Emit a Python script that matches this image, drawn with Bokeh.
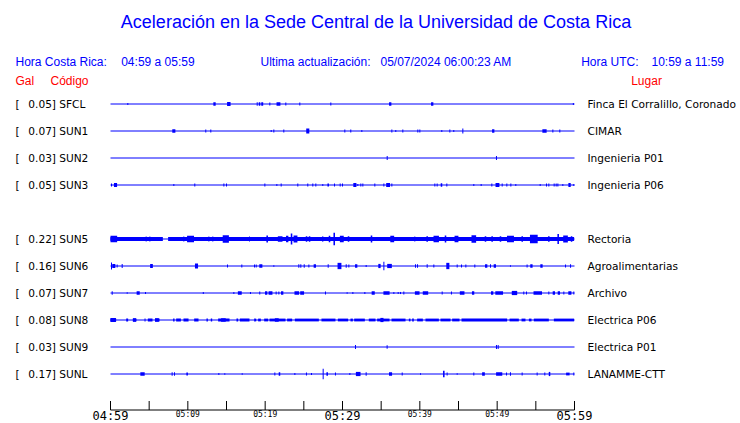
from bokeh.plotting import figure
from bokeh.models import Range1d
from bokeh.core.properties import value
from bokeh.embed import file_html
from bokeh.resources import INLINE

# ---------------- data ----------------
codes = ["SFCL", "SUN1", "SUN2", "SUN3", "SUN5", "SUN6", "SUN7", "SUN8", "SUN9", "SUNL"]
peaks = [0.05, 0.07, 0.03, 0.05, 0.22, 0.16, 0.07, 0.08, 0.03, 0.17]
places = ["Finca El Corralillo, Coronado", "CIMAR", "Ingenieria P01", "Ingenieria P06",
          "Rectoria", "Agroalimentarias", "Archivo", "Electrica P06", "Electrica P01", "LANAMME-CTT"]
slots = [0, 1, 2, 3, 5, 6, 7, 8, 9, 10]   # SUN4 slot is empty

tick_minutes = [0, 5, 10, 15, 20, 25, 30, 35, 40, 45, 50, 55, 60]
major_minutes = [0, 30, 60]
major_labels = ["04:59", "05:29", "05:59"]
minor_minutes = [10, 20, 40, 50]
minor_labels = ["05:09", "05:19", "05:39", "05:49"]

# events: (minute after 04:59, relative amplitude, duration in minutes)
sfcl_events = [(2.24, 0.15, 0.13), (13.45, 0.25, 0.3), (15.3, 0.3, 0.45), (18.97, 0.25, 0.13),
               (19.27, 0.25, 0.2), (19.62, 0.25, 0.25), (20.6, 0.2, 0.13), (21.72, 0.25, 0.5),
               (22.67, 0.2, 0.13), (24.48, 0.2, 0.13), (28.49, 0.2, 0.13), (36.17, 0.25, 0.3),
               (41.6, 0.25, 0.3), (59.85, 0.15, 0.13)]
sun1_events = [(8.19, 0.25, 0.4), (12.32, 0.2, 0.13), (12.97, 0.2, 0.13), (20.78, 0.15, 0.13),
               (21.12, 0.2, 0.13), (22.41, 0.2, 0.13), (25.51, 0.35, 0.4), (30.3, 0.2, 0.13),
               (31.07, 0.2, 0.13), (32.5, 0.15, 0.13), (36.38, 0.2, 0.13), (36.89, 0.15, 0.13),
               (37.8, 0.2, 0.13), (39.74, 0.2, 0.13), (40.0, 0.2, 0.13), (42.84, 0.15, 0.13),
               (43.88, 0.2, 0.13), (44.39, 0.15, 0.13), (45.56, 0.35, 0.13), (49.49, 0.25, 0.3),
               (56.12, 0.25, 0.55), (57.2, 0.2, 0.13), (58.1, 0.2, 0.13)]
sun2_events = [(35.78, 0.3, 0.13), (49.91, 0.3, 0.13)]
sun3_events = [(0.13, 0.2, 0.13), (0.65, 0.3, 0.4), (8.19, 0.15, 0.13), (10.9, 0.2, 0.13),
               (14.66, 0.2, 0.13), (15.0, 0.2, 0.13), (19.96, 0.2, 0.13), (21.51, 0.15, 0.13),
               (22.07, 0.2, 0.13), (24.22, 0.2, 0.13), (25.51, 0.2, 0.13), (26.16, 0.2, 0.13),
               (26.55, 0.2, 0.13), (27.45, 0.15, 0.13), (28.15, 0.2, 0.2), (28.97, 0.2, 0.13),
               (29.7, 0.2, 0.13), (30.0, 0.2, 0.13), (31.6, 0.3, 0.4), (31.98, 0.15, 0.13),
               (32.37, 0.2, 0.13), (32.63, 0.2, 0.13), (34.18, 0.2, 0.13), (35.35, 0.2, 0.13),
               (35.9, 0.3, 0.5), (36.38, 0.2, 0.13), (41.94, 0.2, 0.13), (42.24, 0.2, 0.13),
               (42.8, 0.25, 0.2), (43.49, 0.2, 0.13), (46.98, 0.15, 0.13), (47.93, 0.15, 0.13),
               (49.31, 0.2, 0.13), (50.04, 0.3, 0.5), (50.65, 0.2, 0.13), (51.25, 0.2, 0.13),
               (51.77, 0.2, 0.13), (52.41, 0.15, 0.13), (55.56, 0.15, 0.13), (56.38, 0.2, 0.13),
               (56.68, 0.2, 0.13), (57.37, 0.2, 0.13), (57.63, 0.2, 0.13), (57.85, 0.2, 0.13),
               (58.49, 0.15, 0.13), (59.36, 0.3, 0.3), (59.91, 0.15, 0.13)]
sun5_band = [(0.0, 6.77, 0.28), (7.45, 59.95, 0.28)]
sun5_events = [(0.43, 0.45, 0.86), (4.61, 0.35, 0.13), (5.09, 0.35, 0.13), (8.84, 0.3, 0.13),
               (9.48, 0.35, 0.13), (10.35, 0.45, 0.9), (12.72, 0.35, 0.13), (13.23, 0.35, 0.13),
               (14.91, 0.55, 0.8), (17.98, 0.35, 0.13), (20.26, 0.5, 0.2), (21.94, 0.4, 0.6),
               (22.85, 0.45, 0.3), (23.41, 0.8, 0.2), (23.92, 0.5, 0.5), (25.35, 0.4, 0.2),
               (25.74, 0.4, 0.2), (27.45, 0.4, 0.13), (28.32, 0.45, 0.2), (28.93, 0.9, 0.2),
               (29.91, 0.45, 0.5), (30.78, 0.4, 0.2), (33.75, 0.5, 0.2), (36.43, 0.45, 0.5),
               (39.35, 0.35, 0.13), (40.95, 0.4, 0.2), (42.12, 0.45, 0.7), (43.32, 0.5, 0.2),
               (44.74, 0.45, 0.5), (46.98, 0.55, 0.6), (48.49, 0.4, 0.2), (49.35, 0.4, 0.2),
               (50.43, 0.4, 0.2), (51.72, 0.45, 0.9), (53.24, 0.4, 0.2), (54.74, 0.6, 1.0),
               (56.68, 0.4, 0.2), (57.89, 0.7, 0.2), (58.84, 0.5, 0.6), (59.62, 0.4, 0.2)]
sun6_events = [(0.13, 0.5, 0.13), (0.43, 0.3, 0.4), (0.86, 0.2, 0.13), (1.51, 0.3, 0.13),
               (5.3, 0.3, 0.35), (11.12, 0.35, 0.4), (15.13, 0.2, 0.13), (16.98, 0.2, 0.13),
               (18.62, 0.2, 0.13), (18.84, 0.2, 0.13), (19.44, 0.25, 0.4), (21.12, 0.1, 0.13),
               (24.35, 0.25, 0.13), (24.61, 0.25, 0.13), (25.05, 0.25, 0.13), (25.65, 0.2, 0.13),
               (26.42, 0.25, 0.3), (28.15, 0.25, 0.13), (29.61, 0.45, 0.5), (30.48, 0.25, 0.13),
               (30.82, 0.2, 0.13), (31.77, 0.25, 0.3), (33.06, 0.15, 0.13), (34.78, 0.3, 0.3),
               (35.35, 0.6, 0.13), (36.08, 0.3, 0.6), (39.44, 0.25, 0.13), (39.7, 0.25, 0.13),
               (40.95, 0.25, 0.13), (41.81, 0.2, 0.13), (43.62, 0.45, 0.4), (44.83, 0.2, 0.13),
               (45.39, 0.2, 0.13), (45.95, 0.2, 0.13), (47.11, 0.2, 0.13), (48.58, 0.25, 0.3),
               (49.14, 0.25, 0.13), (49.7, 0.25, 0.3), (51.72, 0.1, 0.13), (53.87, 0.2, 0.13),
               (54.43, 0.25, 0.3), (55.73, 0.25, 0.3), (58.84, 0.2, 0.13), (59.49, 0.25, 0.13)]
sun7_events = [(0.22, 0.25, 0.13), (2.16, 0.1, 0.13), (3.58, 0.25, 0.4), (4.53, 0.15, 0.13),
               (12.0, 0.15, 0.13), (15.95, 0.15, 0.13), (16.72, 0.25, 0.5), (18.1, 0.15, 0.13),
               (19.3, 0.2, 0.13), (20.13, 0.25, 0.3), (20.69, 0.25, 0.5), (21.42, 0.2, 0.13),
               (21.77, 0.2, 0.13), (22.2, 0.25, 0.3), (24.09, 0.25, 0.6), (24.78, 0.25, 0.5),
               (27.8, 0.2, 0.13), (30.6, 0.1, 0.13), (31.34, 0.15, 0.13), (32.89, 0.15, 0.13),
               (33.97, 0.25, 0.4), (35.69, 0.25, 0.8), (36.64, 0.15, 0.13), (37.2, 0.15, 0.13),
               (37.5, 0.15, 0.13), (37.93, 0.2, 0.13), (39.66, 0.25, 0.6), (40.73, 0.25, 0.7),
               (42.89, 0.2, 0.13), (44.09, 0.2, 0.13), (45.47, 0.25, 0.6), (46.89, 0.25, 0.3),
               (49.35, 0.25, 0.3), (50.26, 0.25, 1.0), (52.24, 0.3, 0.7), (53.44, 0.2, 0.13),
               (53.79, 0.2, 0.13), (55.25, 0.25, 1.1), (56.68, 0.2, 0.13), (57.33, 0.25, 0.3),
               (57.98, 0.25, 0.3), (58.62, 0.2, 0.13), (59.4, 0.25, 0.4), (59.91, 0.2, 0.13)]
sun8_band = [(0.0, 0.73, 0.2), (2.03, 2.28, 0.2), (2.89, 3.36, 0.2), (4.4, 4.53, 0.2),
             (4.83, 5.43, 0.2), (5.78, 6.34, 0.2), (8.1, 8.28, 0.2), (8.49, 9.1, 0.2),
             (9.44, 10.09, 0.2), (10.82, 11.38, 0.2), (12.41, 12.59, 0.2), (12.97, 13.15, 0.2),
             (13.92, 15.39, 0.2), (16.29, 16.51, 0.2), (16.72, 17.97, 0.2), (18.58, 18.84, 0.2),
             (19.09, 19.44, 0.2), (19.87, 20.39, 0.2), (20.56, 22.63, 0.2), (22.84, 23.49, 0.2),
             (23.84, 26.94, 0.2), (27.28, 29.09, 0.2), (29.4, 30.73, 0.2), (31.03, 31.34, 0.2),
             (31.51, 32.89, 0.2), (33.4, 34.27, 0.2), (34.48, 36.08, 0.2), (36.34, 38.15, 0.2),
             (38.58, 38.79, 0.2), (39.01, 39.22, 0.2), (39.65, 40.39, 0.2), (40.73, 42.46, 0.2),
             (42.67, 43.97, 0.2), (44.18, 45.13, 0.2), (45.39, 51.29, 0.2), (51.6, 52.8, 0.2),
             (53.15, 53.66, 0.2), (54.1, 54.44, 0.2), (54.74, 56.68, 0.2), (57.33, 59.95, 0.2)]
sun8_events = [(0.35, 0.3, 0.7), (3.1, 0.25, 0.4), (6.0, 0.25, 0.5), (14.6, 0.25, 0.6),
               (21.5, 0.25, 0.5), (35.1, 0.3, 0.4)]
sun9_events = [(31.68, 0.3, 0.13), (35.77, 0.25, 0.13), (49.91, 0.3, 0.13), (50.13, 0.3, 0.13)]
sunl_events = [(4.14, 0.25, 0.56), (7.97, 0.25, 0.13), (8.28, 0.25, 0.13), (9.91, 0.2, 0.2),
               (14.01, 0.15, 0.13), (14.78, 0.1, 0.13), (17.03, 0.1, 0.13), (21.25, 0.2, 0.13),
               (21.85, 0.25, 0.2), (23.84, 0.15, 0.13), (25.34, 0.2, 0.13), (25.99, 0.15, 0.13),
               (27.5, 0.75, 0.13), (28.02, 0.25, 0.2), (29.09, 0.2, 0.13), (30.95, 0.15, 0.13),
               (32.03, 0.3, 0.6), (33.06, 0.25, 0.13), (36.21, 0.25, 0.4), (37.72, 0.2, 0.13),
               (40.09, 0.1, 0.13), (43.1, 0.45, 0.2), (43.53, 0.2, 0.13), (44.83, 0.1, 0.13),
               (46.98, 0.2, 0.13), (48.23, 0.25, 0.35), (50.26, 0.25, 0.8), (51.21, 0.2, 0.13),
               (51.72, 0.25, 0.13), (53.23, 0.2, 0.13), (55.17, 0.2, 0.13), (56.16, 0.2, 0.13),
               (56.77, 0.3, 0.2), (59.14, 0.2, 0.45), (59.91, 0.2, 0.13)]

station_events = [sfcl_events, sun1_events, sun2_events, sun3_events, sun5_events,
                  sun6_events, sun7_events, sun8_events, sun9_events, sunl_events]
station_bands = [[], [], [], [], sun5_band, [], [], sun8_band, [], []]

# ---------------- layout helpers (pixel coordinates of the 740x423 picture) ----------------
W, H = 740, 423
X0_PAGE, X60_PAGE = 110, 574
PPM = (X60_PAGE - X0_PAGE) / 60.0
ROW0_PAGE, ROW_H = 103.5, 27.0
AMP_PX = 7.0


def X(px):
    return (px - X0_PAGE) / PPM


def Y(py):
    return (py - ROW0_PAGE) / ROW_H


AMP = AMP_PX / ROW_H
BLUE = "#0000ff"
RED = "#ff0000"

p = figure(width=W, height=H, output_backend="svg", toolbar_location=None,
           x_range=Range1d(X(0), X(W)),
           y_range=Range1d(Y(H), Y(0)),
           min_border=0, outline_line_color=None, background_fill_color="white",
           border_fill_color="white")
p.axis.visible = False
p.xgrid.visible = False
p.ygrid.visible = False

# traces
base_x0, base_x1, base_y = [], [], []
ql, qr, qt, qb = [], [], [], []
for slot, evs, bands in zip(slots, station_events, station_bands):
    base_x0.append(0)
    base_x1.append(60)
    base_y.append(slot)
    for (s, e, a) in bands:
        ql.append(s); qr.append(e); qt.append(slot - a * AMP); qb.append(slot + a * AMP)
    for (t, a, d) in evs:
        ql.append(max(0, t - d / 2)); qr.append(min(60, t + d / 2))
        qt.append(slot - a * AMP); qb.append(slot + a * AMP)

p.segment(x0=base_x0, x1=base_x1, y0=base_y, y1=base_y, line_color=BLUE, line_width=1)
p.quad(left=ql, right=qr, top=qt, bottom=qb, fill_color=BLUE, line_color=None)

# left labels
lab_font = value("DejaVu Sans")
LAB_SIZE = "10.6px"
p.text(x=[X(15)] * len(slots), y=slots, text=["["] * len(slots), text_font=lab_font,
       text_font_size=LAB_SIZE, text_color="black", text_align="left", text_baseline="middle")
p.text(x=[X(55.5)] * len(slots), y=slots, text=[f"{v:.2f}]" for v in peaks], text_font=lab_font,
       text_font_size=LAB_SIZE, text_color="black", text_align="right", text_baseline="middle")
p.text(x=[X(58.7)] * len(slots), y=slots, text=codes, text_font=lab_font,
       text_font_size=LAB_SIZE, text_color="black", text_align="left", text_baseline="middle")
# right labels
p.text(x=[X(587)] * len(slots), y=slots, text=places, text_font=lab_font,
       text_font_size=LAB_SIZE, text_color="black", text_align="left", text_baseline="middle")

# title and header
hdr_font = value("Liberation Sans")
p.text(x=[X(375.5)], y=[Y(21)], text=["Aceleración en la Sede Central de la Universidad de Costa Rica"],
       text_font=hdr_font, text_font_size="18px", text_color=BLUE, text_align="center",
       text_baseline="middle")
p.text(x=[X(15), X(120.7), X(260), X(380), X(580.7), X(651)], y=[Y(61)] * 6,
       text=["Hora Costa Rica:", "04:59 a 05:59", "Ultima actualización:",
             "05/07/2024 06:00:23 AM", "Hora UTC:", "10:59 a 11:59"],
       text_font=hdr_font, text_font_size="12px", text_color=BLUE, text_align="left",
       text_baseline="middle")
p.text(x=[X(15), X(50), X(630.7)], y=[Y(80.5)] * 3, text=["Gal", "Código", "Lugar"],
       text_font=hdr_font, text_font_size="12px", text_color=RED, text_align="left",
       text_baseline="middle")

# time axis
AX_Y, TICK_TOP = 409.5, 400.5
p.segment(x0=[0], x1=[60], y0=[Y(AX_Y)], y1=[Y(AX_Y)], line_color="black", line_width=1)
p.segment(x0=tick_minutes, x1=tick_minutes, y0=[Y(TICK_TOP)] * len(tick_minutes),
          y1=[Y(AX_Y)] * len(tick_minutes), line_color="black", line_width=1)
mono = value("DejaVu Sans Mono")
p.text(x=major_minutes, y=[Y(415.5)] * 3, text=major_labels, text_font=mono,
       text_font_size="12px", text_color="black", text_align="center", text_baseline="middle")
p.text(x=minor_minutes, y=[Y(414)] * 4, text=minor_labels, text_font=mono,
       text_font_size="8px", text_color="black", text_align="center", text_baseline="middle")

open("out.html", "w").write(file_html(p, INLINE))
